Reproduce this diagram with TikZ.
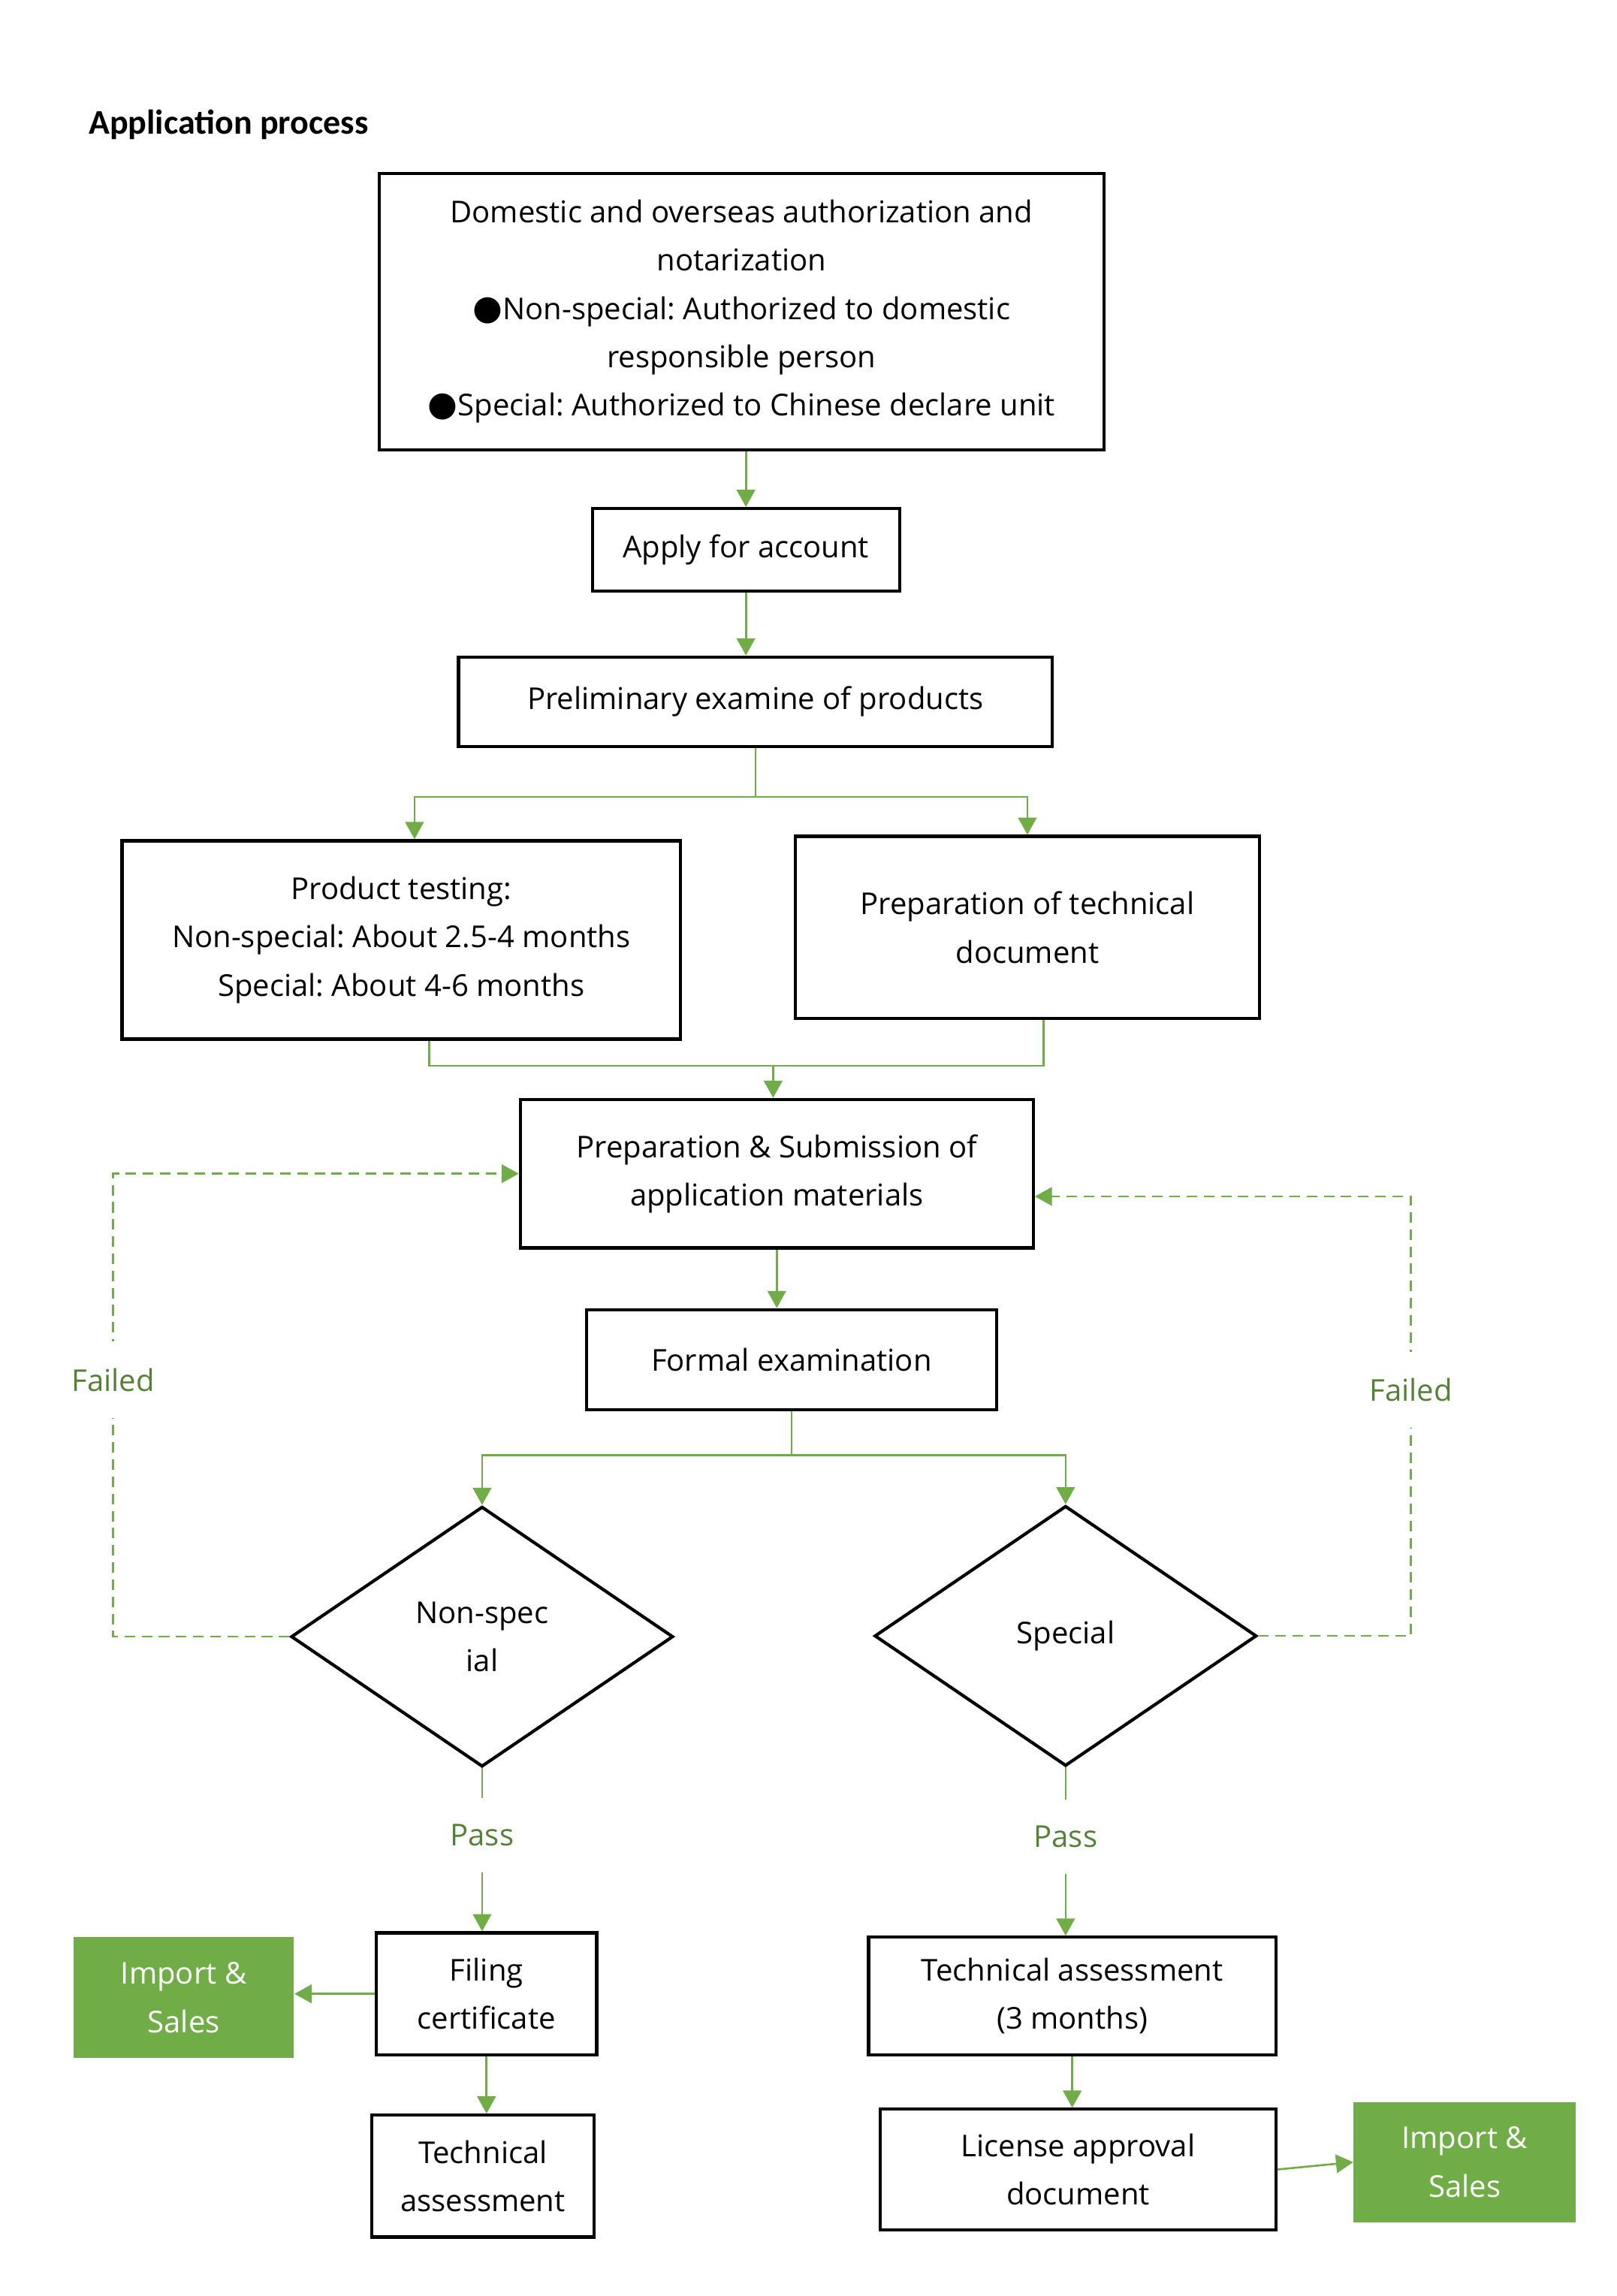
\documentclass[tikz,border=0pt]{standalone}
\usepackage{fontspec}
\setmainfont{Open Sans}
\newfontfamily\titlefont{Carlito}
\newfontfamily\dotfont{DejaVu Sans}
\usetikzlibrary{positioning,calc,arrows.meta,shapes.geometric}
\frenchspacing
\newcommand\pxu{0.01957cm}
\definecolor{linegreen}{HTML}{70AD47}
\definecolor{textgreen}{HTML}{548235}
\tikzset{>={Triangle[width=7pt,length=6.5pt]}}
\tikzset{
  txt/.style={font=\fontsize{11.4}{18.3}\selectfont},
  box/.style 2 args={draw,line width=1.2pt,minimum width=#1*\pxu,minimum height=#2*\pxu,inner sep=0pt,align=center,txt},
  imp/.style 2 args={fill=linegreen,text=white,minimum width=#1*\pxu,minimum height=#2*\pxu,inner sep=0pt,align=center,txt},
  dia/.style={draw,diamond,line width=1.2pt,minimum width=260*\pxu,minimum height=177*\pxu,aspect=1.47,inner sep=0pt,align=center,txt},
  conn/.style={draw=linegreen,line width=0.75pt},
  flow/.style={conn,->},
  fail/.style={conn,dash pattern=on 4pt off 2.5pt,->},
  lbl/.style={text=textgreen,fill=white,inner xsep=1pt,inner ysep=10pt,txt}
}
\newcommand\dotmark{{\dotfont\fontsize{13}{18.3}\selectfont ●}}

\begin{document}
\begin{tikzpicture}[x=\pxu,y=-\pxu]
\fill[white] (0,0) rectangle (1100.15,1562.09);
\useasboundingbox (0,0) rectangle (1100.15,1562.09);

\node[anchor=west,inner sep=0pt,font=\titlefont\bfseries\fontsize{13.1}{15}\selectfont] (title) at (60,85) {Application process};

\node[box={493}{188}] (dom) at (504.5,212) {Domestic and overseas authorization and\\notarization\\\dotmark Non-special: Authorized to domestic\\responsible person\\\dotmark Special: Authorized to Chinese declare unit};
\node[box={209}{56}] (acc) at (507.5,374) {Apply for account};
\node[box={404}{61}] (pre) at (514,477.5) {Preliminary examine of products};
\node[box={380}{135}] (test) at (273,639.5) {Product testing:\\Non-special: About 2.5-4 months\\Special: About 4-6 months};
\node[box={316}{124}] (tech) at (699,631) {Preparation of technical\\document};
\node[box={349}{101}] (sub) at (528.5,798.5) {Preparation \& Submission of\\application materials};
\node[box={279}{68}] (formal) at (538.5,925) {Formal examination};
\node[dia] (ns) at (328,1113.5) {Non-spec\\ial};
\node[dia] (sp) at (725,1113) {Special};
\node[box={150}{83}] (fil) at (331,1356.5) {Filing\\certificate};
\node[imp={150}{82}] (imp1) at (125,1359) {Import \&\\Sales};
\node[box={151}{83}] (ta1) at (328.5,1480.5) {Technical\\assessment};
\node[box={277}{80}] (tas) at (729.5,1358) {Technical assessment\\(3 months)};
\node[box={269}{82}] (lic) at (733.5,1476) {License approval\\document};
\node[imp={151}{82}] (imp2) at (996.5,1471) {Import \&\\Sales};

\draw[flow] (acc.north |- dom.south) -- (acc.north);
\draw[flow] (acc.south) -- (acc.south |- pre.north);
\draw[flow] (pre.south) -- ++(0,33) -| ([xshift=9*\pxu]test.north);
\draw[flow] (pre.south) ++(0,33) -| (tech.north);
\coordinate (join) at (526,725);
\draw[conn] ([xshift=19*\pxu]test.south) |- (join) -| ([xshift=11*\pxu]tech.south);
\draw[flow] (join) -- (join |- sub.north);
\draw[flow] (sub.south) -- (sub.south |- formal.north);
\draw[flow] (formal.south) -- ++(0,30) -| (ns.north);
\draw[flow] (formal.south) ++(0,30) -| (sp.north);

\coordinate (fl) at (77,0);
\draw[fail] (ns.west) -- (ns.west -| fl) -- node[lbl,pos=.555] {Failed} (fl |- sub.west) -- (sub.west);
\coordinate (fr) at (960,814);
\draw[fail] (sp.east) -- (sp.east -| fr) -- node[lbl,pos=.56] {Failed} (fr) -- (fr -| sub.east);

\draw[flow] (ns.south) -- node[lbl,pos=.41] {Pass} (ns.south |- fil.north);
\draw[flow] (sp.south) -- node[lbl,pos=.41] {Pass} (sp.south |- tas.north);
\draw[flow] (fil.west) -- (fil.west -| imp1.east);
\draw[flow] (fil.south) -- (fil.south |- ta1.north);
\draw[flow] (tas.south) -- (tas.south |- lic.north);
\draw[flow] (lic.east) -- (imp2.west);
\end{tikzpicture}
\end{document}
